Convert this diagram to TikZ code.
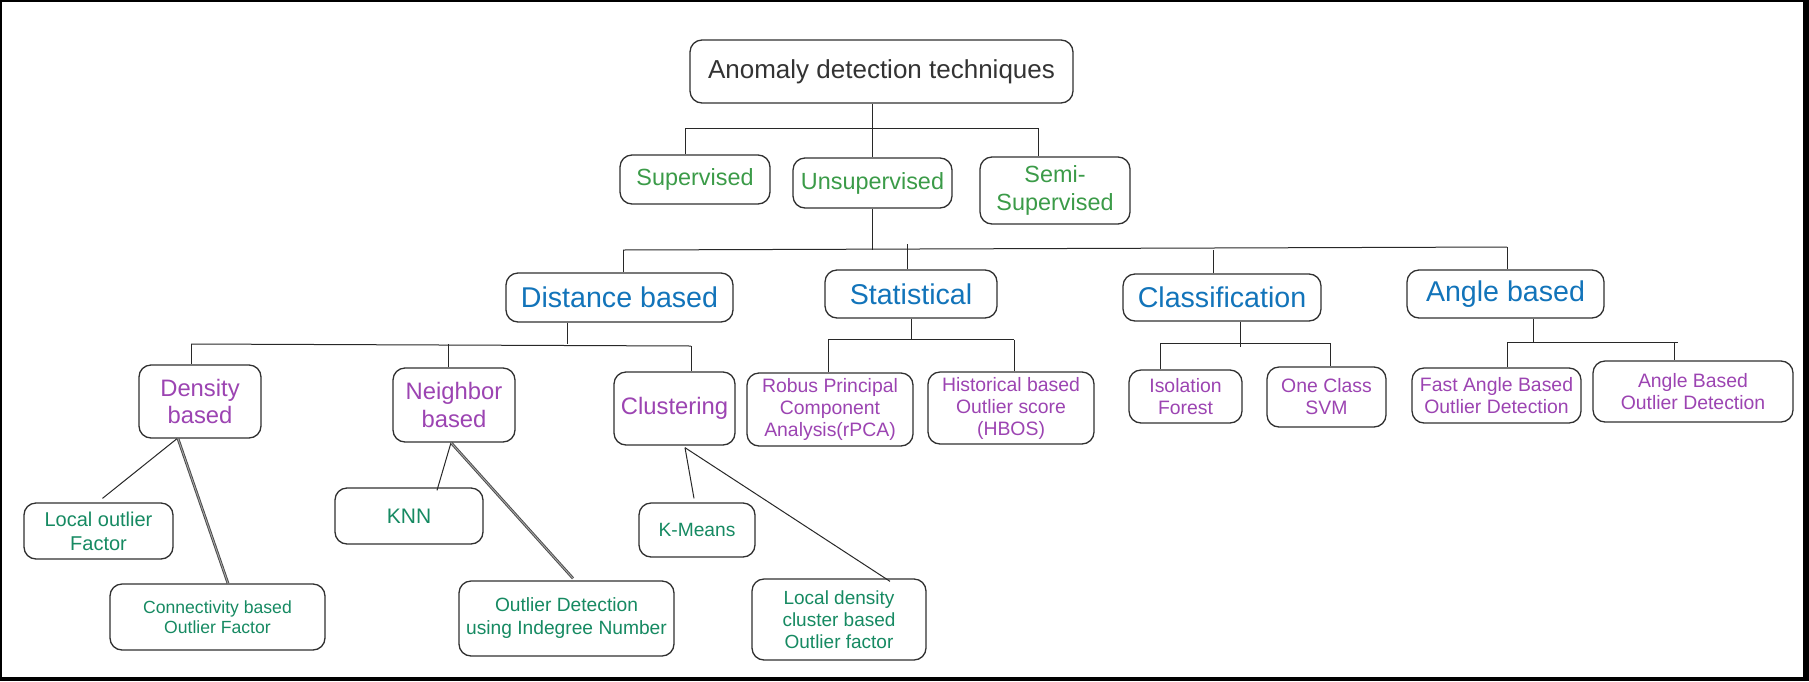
\documentclass[tikz,border=0pt]{standalone}
\usepackage{fontspec}
\setmainfont{Liberation Sans}
\definecolor{rootc}{RGB}{51,51,51}
\definecolor{boxc}{RGB}{48,48,48}
\definecolor{linec}{RGB}{40,40,40}
\definecolor{greenA}{RGB}{59,155,72}
\definecolor{greenB}{RGB}{22,138,98}
\definecolor{blueA}{RGB}{18,116,186}
\definecolor{purpA}{RGB}{156,68,178}
\tikzset{
  box/.style={draw=boxc, line width=0.65pt, rounded corners=6pt, align=center, inner sep=0pt},
  conn/.style={draw=linec, line width=0.5pt},
  dbl/.style={draw=linec!85, line width=0.45pt, double=gray!70, double distance=0.45pt},
  lvA/.style={text=greenA, font=\fontsize{11.7}{13.8}\selectfont},
  lvB/.style={text=blueA, font=\fontsize{14.3}{16}\selectfont},
  lvC/.style={text=purpA, font=\fontsize{11.9}{13.6}\selectfont},
  lvD/.style={text=purpA, font=\fontsize{9.7}{11}\selectfont},
  lvE/.style={text=greenB, font=\fontsize{9.6}{11.5}\selectfont},
}
\begin{document}
\begin{tikzpicture}[x=0.5pt,y=-0.5pt]
\useasboundingbox (0,0) rectangle (1809,681);
\fill[black] (0,0) rectangle (1809,681);
\fill[white] (2,2) rectangle (1803,677);

% root and first level
\node[box, minimum width=191.5pt, minimum height=31.5pt, text=rootc, font=\fontsize{13}{15}\selectfont] (root) at (881.5,71.5) {Anomaly detection techniques};
\node[box, lvA, minimum width=75pt, minimum height=24.5pt] (sup) at (695,179.5) {Supervised};
\node[box, lvA, minimum width=79.5pt, minimum height=25pt] (unsup) at (872.5,183) {Unsupervised};
\node[box, lvA, minimum width=75pt, minimum height=33.5pt] (semi) at (1055,190.5) {Semi-\\Supervised};

% second level
\node[box, lvB, minimum width=113.5pt, minimum height=24.5pt] (dist) at (619.5,297.5) {Distance based};
\node[box, lvB, minimum width=86pt, minimum height=24pt] (stat) at (911,294) {Statistical};
\node[box, lvB, minimum width=99pt, minimum height=23.5pt] (class) at (1222,297.5) {Classification};
\node[box, lvB, minimum width=98.5pt, minimum height=24pt] (angle) at (1505.5,294) {Angle based};

% third level
\node[box, lvC, minimum width=61pt, minimum height=36.5pt] (density) at (200,401.5) {Density\\based};
\node[box, lvC, minimum width=61pt, minimum height=37pt] (neighbor) at (454,405) {Neighbor\\based};
\node[box, lvC, minimum width=60.5pt, minimum height=36.5pt] (cluster) at (674.5,408.5) {Clustering};
\node[box, lvD, minimum width=83pt, minimum height=36.5pt] (rpca) at (830,409.5) {Robus Principal\\Component\\Analysis(rPCA)};
\node[box, lvD, minimum width=83pt, minimum height=36pt] (hbos) at (1011,408) {Historical based\\Outlier score\\(HBOS)};
\node[box, lvD, minimum width=56.5pt, minimum height=26.5pt] (iso) at (1185.5,396.5) {Isolation\\Forest};
\node[box, lvD, minimum width=59.5pt, minimum height=30pt] (ocsvm) at (1326.5,397) {One Class\\SVM};
\node[box, lvD, minimum width=84.5pt, minimum height=27.5pt] (fabod) at (1496.5,395.5) {Fast Angle Based\\Outlier Detection};
\node[box, lvD, minimum width=100pt, minimum height=30.5pt] (abod) at (1693,391.5) {Angle Based\\Outlier Detection};

% fourth level
\node[box, lvE, minimum width=74.5pt, minimum height=28pt, font=\fontsize{10}{12}\selectfont] (lof) at (98.5,531) {Local outlier\\Factor};
\node[box, lvE, minimum width=107.5pt, minimum height=33pt, font=\fontsize{8.8}{10}\selectfont] (cbof) at (217.5,617) {Connectivity based\\Outlier Factor};
\node[box, lvE, minimum width=74pt, minimum height=28pt, font=\fontsize{10.5}{12}\selectfont] (knn) at (409,516) {KNN};
\node[box, lvE, minimum width=107.5pt, minimum height=37.5pt] (odin) at (566.5,618.5) {Outlier Detection\\using Indegree Number};
\node[box, lvE, minimum width=58pt, minimum height=27pt] (kmeans) at (697,530) {K-Means};
\node[box, lvE, minimum width=87pt, minimum height=40.5pt, font=\fontsize{9.5}{11}\selectfont] (ldcof) at (839,619.5) {Local density\\cluster based\\Outlier factor};

% group: root
\coordinate (b0l) at (685,128);
\coordinate (b0r) at (1038,128);
\draw[conn] (b0l) -- (b0r);
\draw[conn] (root.south -| unsup.north) -- (unsup.north);
\draw[conn] (b0l) -- (b0l |- sup.north);
\draw[conn] (b0r) -- (b0r |- semi.north);

% group: unsupervised
\coordinate (b1l) at (623,250);
\coordinate (b1r) at (1507,247);
\draw[conn] (b1l) -- (b1r);
\draw[conn] (unsup.south) -- (unsup.south |- b1l);
\draw[conn] (b1l) -- (b1l |- dist.north);
\draw[conn] ([xshift=-2pt]stat.north) -- ([xshift=-2pt,yshift=3pt]stat.north |- b1l);
\draw[conn] ([xshift=-4.5pt]class.north) -- ([xshift=-4.5pt]class.north |- b1l);
\draw[conn] (b1r) -- (b1r |- angle.north);

% group: distance based
\coordinate (b2l) at (191,344);
\coordinate (b2r) at (691,346);
\draw[conn] (b2l) -- (b2r);
\draw[conn] ([xshift=-26.25pt]dist.south) -- ([xshift=-26.25pt]dist.south |- b2l);
\draw[conn] (b2l) -- (b2l |- density.north);
\draw[conn] ([xshift=-3pt]neighbor.north) -- ([xshift=-3pt]neighbor.north |- b2l);
\draw[conn] (b2r) -- (b2r |- cluster.north);

% group: statistical
\coordinate (b3l) at (828,339.5);
\coordinate (b3r) at (1014,339.5);
\draw[conn] (b3l) -- (b3r);
\draw[conn] (stat.south) -- (stat.south |- b3l);
\draw[conn] (b3l) -- (b3l |- rpca.north);
\draw[conn] (b3r) -- (b3r |- hbos.north);

% group: classification
\coordinate (b4l) at (1160,343);
\coordinate (b4r) at (1330,343);
\draw[conn] (b4l) -- (b4r);
\draw[conn] ([xshift=9pt]class.south) -- ([xshift=9pt,yshift=-2pt]class.south |- b4l);
\draw[conn] (b4l) -- (b4l |- iso.north);
\draw[conn] (b4r) -- (b4r |- ocsvm.north);

% group: angle based
\coordinate (b5l) at (1507,342);
\coordinate (b5r) at (1678,342);
\draw[conn] (b5l) -- (b5r);
\draw[conn] ([xshift=13.75pt]angle.south) -- ([xshift=13.75pt]angle.south |- b5l);
\draw[conn] (b5l) -- (b5l |- fabod.north);
\draw[conn] ([xshift=-2pt]b5r) -- ([xshift=-2pt]b5r |- abod.north);

% diagonal connectors
\draw[conn] ([xshift=-11.5pt]density.south) -- ([xshift=2pt,yshift=2pt]lof.north);
\draw[dbl] ([xshift=-11pt]density.south) -- ([xshift=5.25pt]cbof.north);
\draw[conn] ([xshift=-1.5pt]neighbor.south) -- ([xshift=14pt,yshift=-1.5pt]knn.north);
\draw[dbl] ([xshift=-1.5pt]neighbor.south) -- ([xshift=3.25pt,yshift=1pt]odin.north);
\draw[conn] ([xshift=5.25pt,yshift=-1pt]cluster.south) -- ([xshift=-1.5pt,yshift=2pt]kmeans.north);
\draw[conn] ([xshift=5.25pt,yshift=-1pt]cluster.south) -- ([xshift=25.5pt,yshift=-1.5pt]ldcof.north);
\end{tikzpicture}
\end{document}
